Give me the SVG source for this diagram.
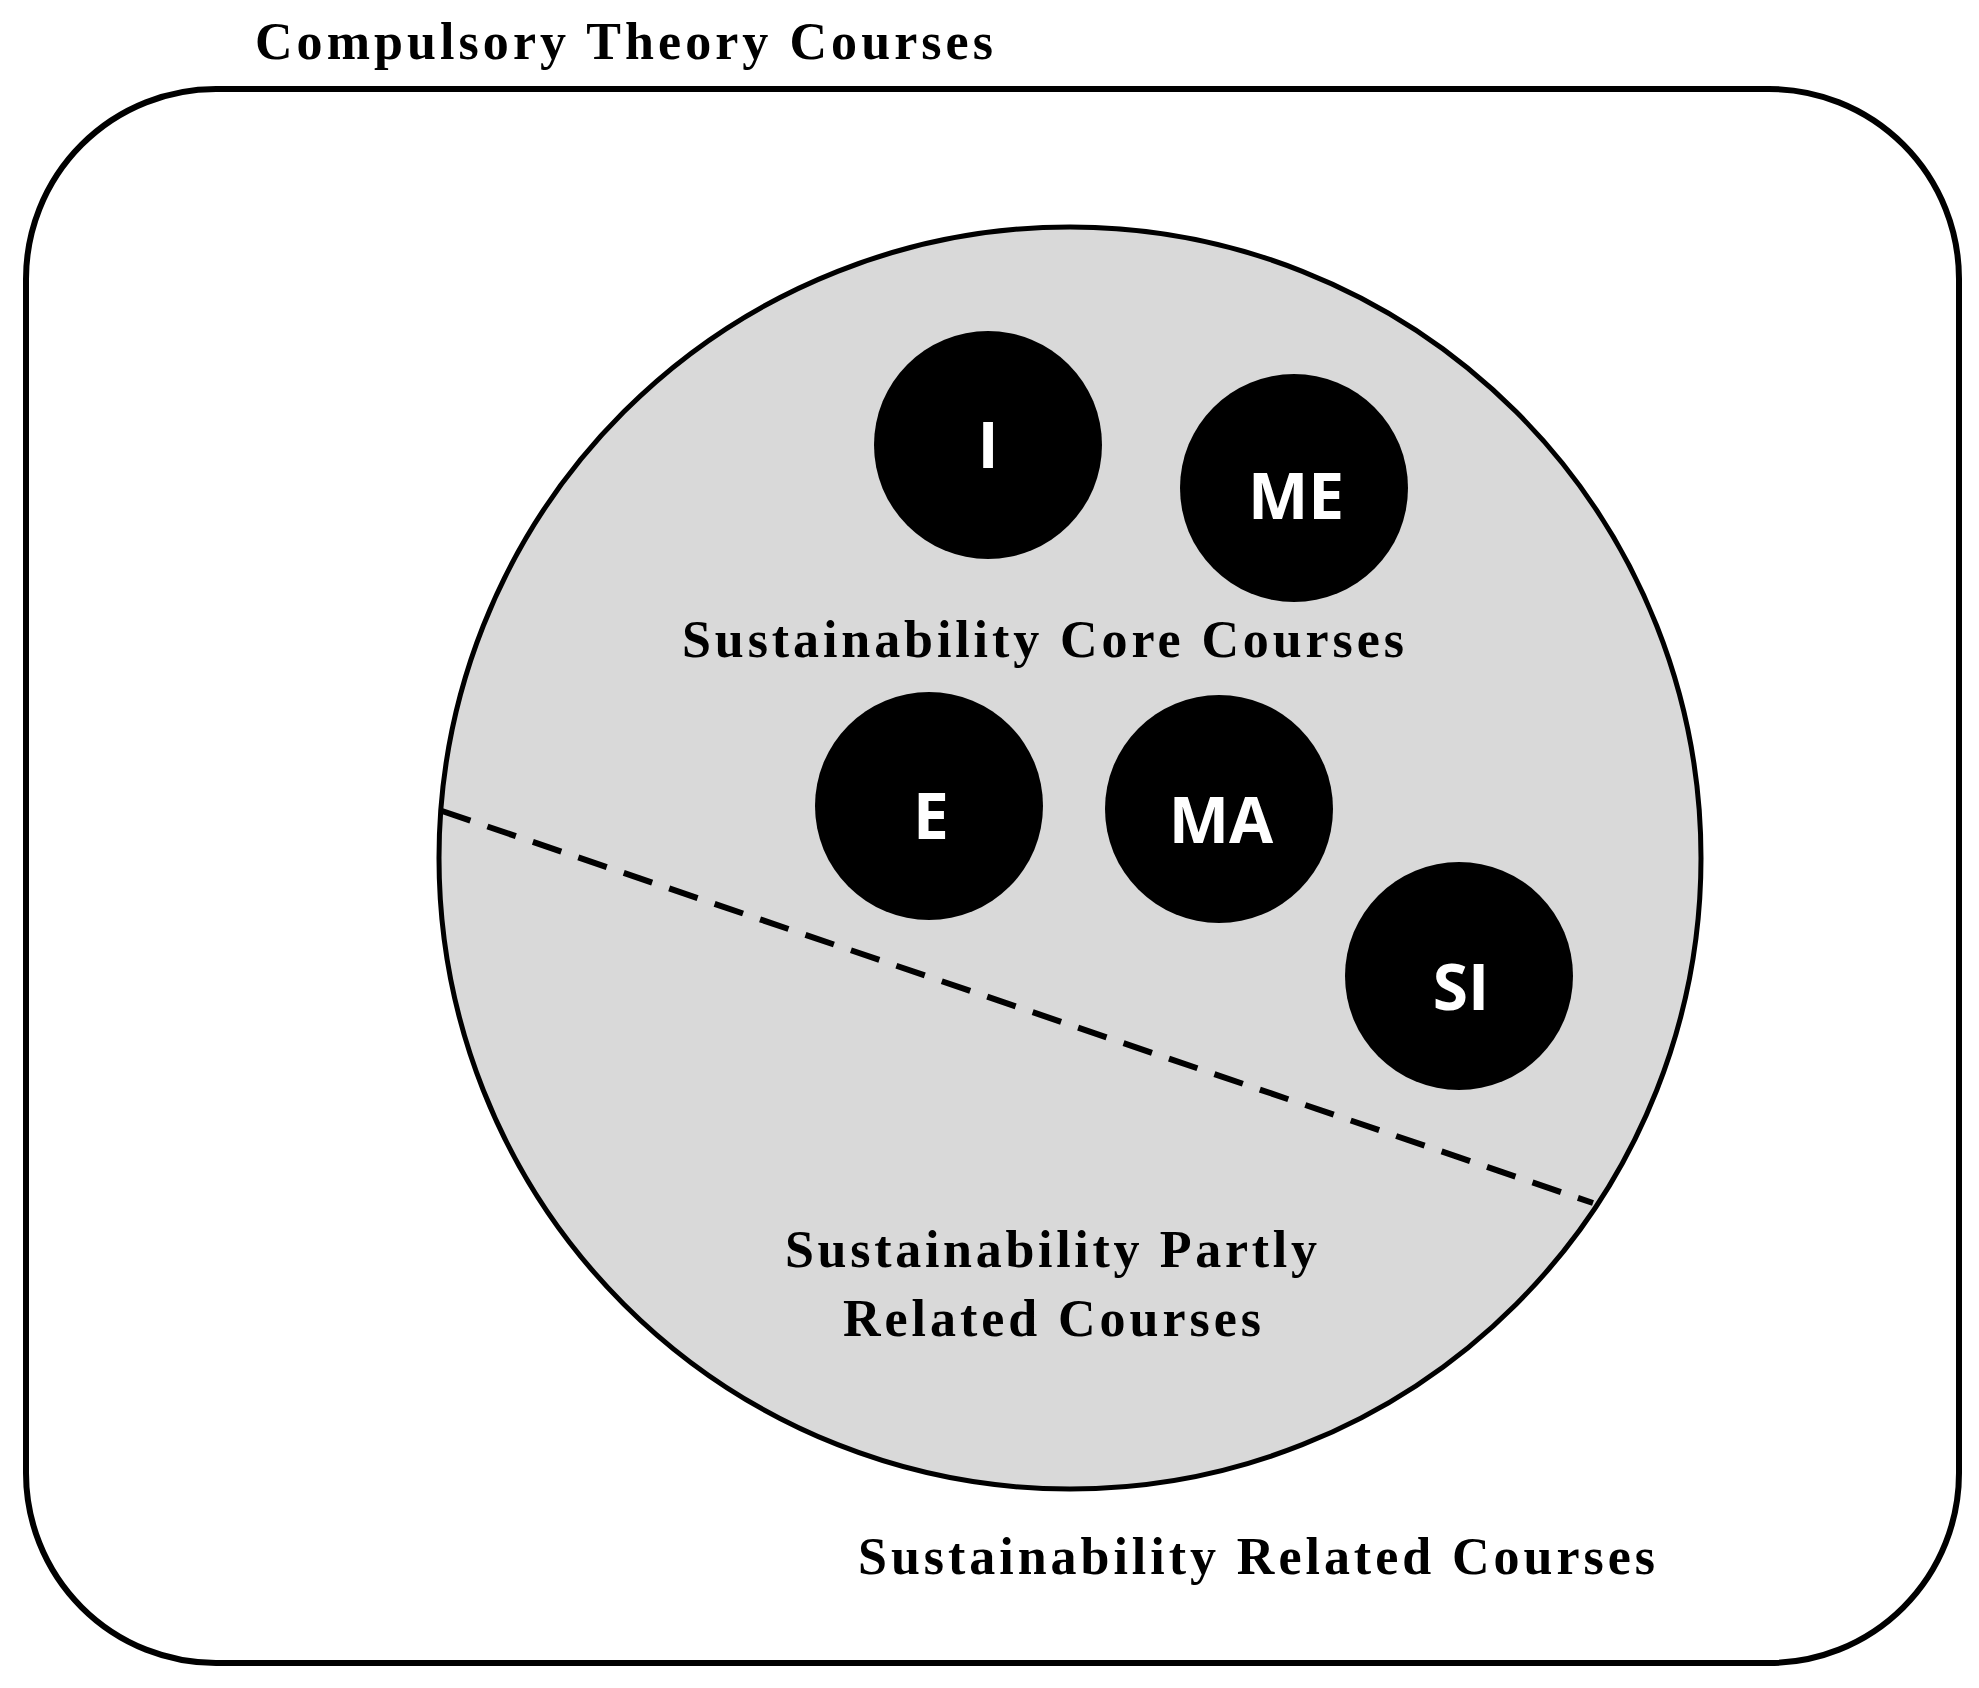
<svg xmlns="http://www.w3.org/2000/svg" width="1979" height="1688" viewBox="0 0 1979 1688">
<style>
.lbl{font-family:"Liberation Serif",serif;font-weight:bold;font-size:52px;fill:#000}
.nd{fill:#000}
.nt{font-family:"Open Sans","Noto Sans",sans-serif;font-weight:bold;font-size:64px;fill:#fff;text-anchor:middle}
</style>
<rect x="0" y="0" width="1979" height="1688" fill="#fff"/>
<g id="outer"><rect x="26" y="89" width="1933" height="1574" rx="190" ry="190" fill="none" stroke="#000" stroke-width="6"/></g>
<g id="core"><ellipse cx="1070" cy="858" rx="631" ry="631" fill="#d9d9d9" stroke="#000" stroke-width="5"/></g>
<g id="connectors"><line x1="442" y1="811" x2="1593" y2="1203" stroke="#000" stroke-width="6" stroke-dasharray="30,18"/></g>
<g id="n-I"><circle class="nd" cx="988" cy="445" r="114"/><text class="nt" x="988" y="468">I</text></g>
<g id="n-ME"><circle class="nd" cx="1294" cy="488" r="114"/><text class="nt" x="1296" y="519">ME</text></g>
<g id="n-E"><circle class="nd" cx="929" cy="806" r="114"/><text class="nt" x="931" y="839">E</text></g>
<g id="n-MA"><circle class="nd" cx="1219" cy="809" r="114"/><text class="nt" x="1221" y="843">MA</text></g>
<g id="n-SI"><circle class="nd" cx="1459" cy="976" r="114"/><text class="nt" x="1461" y="1010">SI</text></g>
<text class="lbl" x="255" y="59" textLength="738">Compulsory Theory Courses</text>
<text class="lbl" x="682" y="657" textLength="722">Sustainability Core Courses</text>
<text class="lbl" x="785" y="1267" textLength="532">Sustainability Partly</text>
<text class="lbl" x="843" y="1336" textLength="418">Related Courses</text>
<text class="lbl" x="858" y="1574" textLength="797">Sustainability Related Courses</text>
</svg>
